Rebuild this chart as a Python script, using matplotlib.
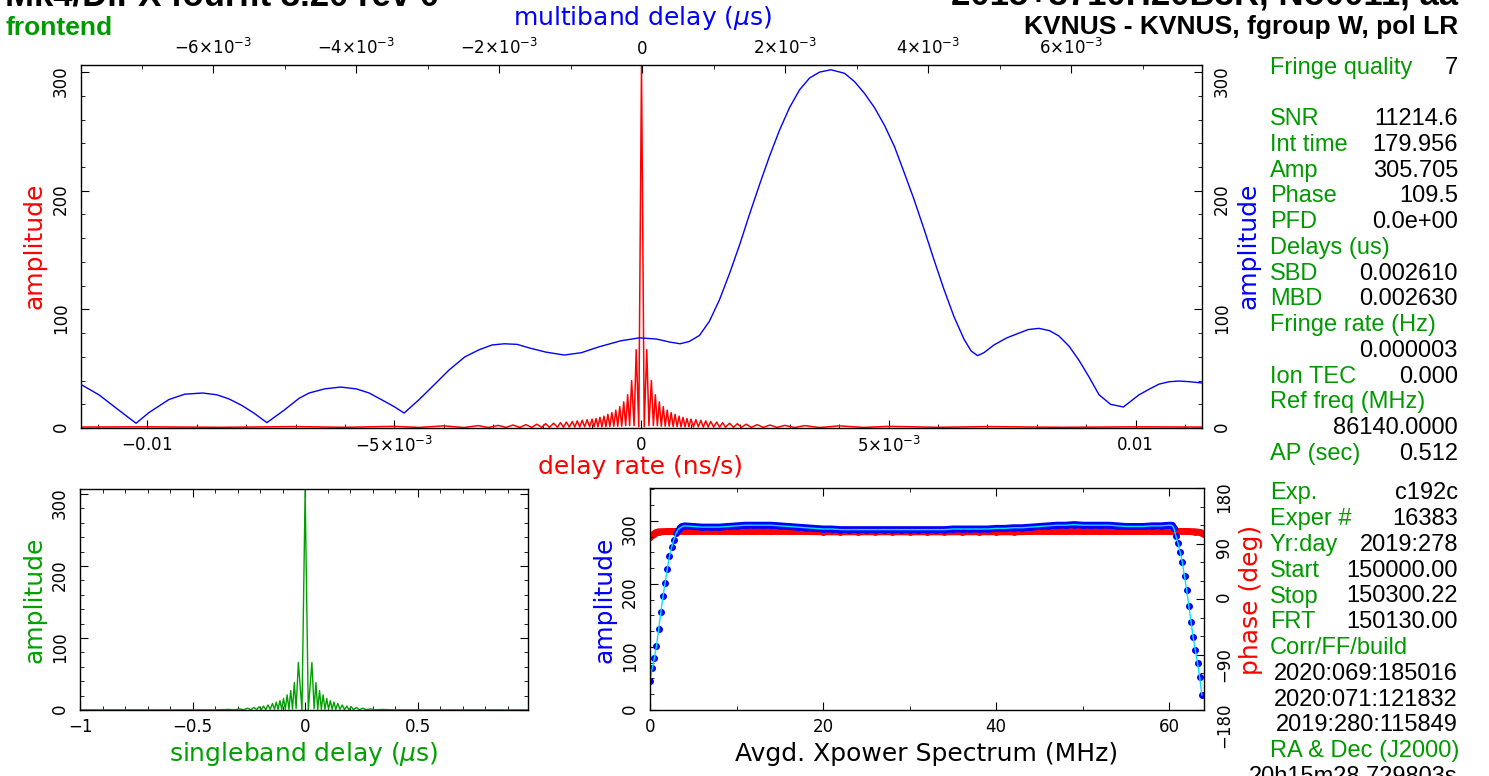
import numpy as np
import matplotlib.pyplot as plt
from matplotlib.ticker import MultipleLocator, FixedLocator

# ---- data ----
# multiband delay (units of 1e-3 us) vs amplitude (blue, top panel)
mbd_x = [-7.86, -7.60, -7.32, -7.08, -6.90, -6.62, -6.40, -6.15, -5.95, -5.78, -5.60, -5.43,
         -5.25, -5.01, -4.80, -4.66, -4.44, -4.22, -4.00, -3.82, -3.62, -3.47, -3.33, -3.12,
         -2.90, -2.70, -2.48, -2.28, -2.10, -1.93, -1.75, -1.58, -1.35, -1.09, -0.85, -0.60,
         -0.30, -0.04, 0.20, 0.38, 0.53, 0.66, 0.80, 0.94, 1.08, 1.22, 1.36, 1.50, 1.64, 1.78,
         1.92, 2.06, 2.20, 2.34, 2.48, 2.64, 2.83, 2.97, 3.11, 3.25, 3.39, 3.53, 3.66, 3.80,
         3.94, 4.08, 4.22, 4.36, 4.50, 4.60, 4.69, 4.78, 4.92, 5.10, 5.27, 5.40, 5.55, 5.70,
         5.83, 5.97, 6.11, 6.25, 6.39, 6.55, 6.73, 6.95, 7.10, 7.23, 7.37, 7.51, 7.66, 7.82]
mbd_amp = [37, 28, 15, 4, 13, 24, 28.5, 29.5, 28, 24.5, 19, 12.5,
           4.5, 15, 25, 29.5, 33, 34.5, 33, 29.5, 23, 18, 12.6, 24,
           37, 49, 60, 66, 70, 71, 70.5, 67.5, 64, 61.5, 63.5, 68.5,
           73.5, 76, 75, 72.5, 71, 73, 78, 90, 108, 130, 154, 180, 205, 229,
           251, 270, 285, 295, 300, 302, 299, 292, 282, 270, 255, 237, 216, 193,
           168, 142, 117, 94, 75, 65, 61, 63.5, 70, 76, 80, 83, 84, 82,
           77.5, 69, 57, 43, 28, 20, 17.7, 28, 33, 37, 39, 39.6, 39, 38]

# delay rate (units of 1e-3 ns/s, positive side, plot is symmetric) vs amplitude (red)
rate_x = [0.000, 0.055, 0.107, 0.150, 0.200, 0.240, 0.280, 0.320, 0.360, 0.400, 0.440, 0.480,
          0.520, 0.560, 0.600, 0.640, 0.680, 0.720, 0.760, 0.800, 0.840, 0.880, 0.920, 0.960,
          1.000, 1.050, 1.100, 1.150, 1.200, 1.250, 1.300, 1.350, 1.400, 1.460, 1.520, 1.580,
          1.640, 1.700, 1.780, 1.860, 1.940, 2.020, 2.120, 2.220, 2.340, 2.460, 2.600, 2.740,
          2.900, 3.100, 3.300, 3.600, 4.000, 4.500, 5.000, 6.000, 7.000, 8.500, 10.00, 11.40]
rate_amp = [305.7, 1, 66, 2, 40, 2, 28, 2, 22, 1.5, 18, 1.5,
            15, 1.5, 13, 1.2, 11.5, 1.2, 10, 1, 9, 1, 8, 1,
            7.5, 1, 7, 1, 6.5, 0.8, 6, 0.8, 5.5, 0.8, 5, 0.7,
            4.5, 0.7, 4, 0.6, 3.6, 0.6, 3.2, 0.5, 2.8, 0.5, 2.5, 0.5,
            2.2, 0.4, 2, 0.4, 1.8, 0.5, 1.4, 0.6, 1.2, 0.6, 1.0, 0.8]

# singleband delay (us, positive side, symmetric) vs amplitude (green)
sbd_x = [0.000, 0.014, 0.030, 0.040, 0.048, 0.056, 0.064, 0.072, 0.080, 0.088, 0.096, 0.104,
         0.112, 0.120, 0.128, 0.136, 0.145, 0.155, 0.165, 0.175, 0.185, 0.195, 0.205, 0.215,
         0.228, 0.241, 0.256, 0.272, 0.290, 0.310, 0.340, 0.400, 1.000]
sbd_amp = [305, 0, 66, 2, 38, 1, 27, 1, 21, 1, 16, 1,
           13, 1, 11, 1, 9, 1, 7, 0.5, 5.5, 0.5, 4.5, 0.5,
           3.5, 0.3, 2.5, 0.3, 1.5, 0.2, 0.8, 0.2, 0.1]

# averaged cross-power spectrum: amplitude per spectral point
xp_freq = [0, 0.25, 0.5, 0.75, 1.0, 1.25, 1.5, 1.75, 2.0, 2.25, 2.5, 2.75, 3.0, 3.25, 3.5, 3.75,
           4, 5, 6, 7, 8, 9, 10, 11, 12, 13, 14, 15, 16, 17, 18, 19, 20, 21, 22, 23, 24, 25,
           26, 27, 28, 29, 30, 31, 32, 33, 34, 35, 36, 37, 38, 39, 40, 41, 42, 43, 44, 45, 46,
           47, 48, 49, 50, 51, 52, 53, 54, 55, 56, 57, 58, 59, 60, 60.25, 60.5,
           60.75, 61.0, 61.25, 61.5, 61.75, 62.0, 62.25, 62.5, 62.75, 63.0, 63.25, 63.5, 63.75]
xp_amp = [46, 66, 82, 102, 128, 155, 180, 202, 224, 244, 258, 270, 280, 286, 289, 291,
          292, 291, 290, 290, 290, 291, 292, 293, 293, 293, 293, 292, 291, 290, 289, 288, 287,
          287, 286, 286, 286, 286, 286, 286, 286, 286, 286, 286, 286, 286, 286, 287, 287, 287,
          287, 287, 288, 288, 289, 289, 290, 291, 292, 293, 293, 294, 293, 293, 293, 293, 292,
          291, 291, 291, 292, 292, 293, 293, 289,
          276, 265, 250, 234, 212, 190, 165, 140, 115, 95, 75, 52, 24]
xp_phase_freq = [0, 0.25, 0.5, 0.75, 1, 2, 4, 6, 8, 10, 12, 14, 16, 18, 20, 22, 24, 26, 28, 30,
                 32, 34, 36, 38, 40, 42, 44, 46, 48, 50, 52, 54, 56, 58, 60, 62, 63, 63.5, 64]
xp_phase = [100, 103, 106, 108, 109, 109.5, 109.5, 109.5, 109.5, 109.5, 109.5, 109.5, 109.5,
            109.5, 109, 109, 109, 109, 109, 109, 109, 109, 109, 109, 109, 109, 109.5, 109.5,
            109.5, 109.5, 109.5, 109.5, 109.5, 109.5, 109.5, 109.5, 109, 108, 105]

info_labels = ['Fringe quality', '', 'SNR', 'Int time', 'Amp', 'Phase', 'PFD', 'Delays (us)',
               'SBD', 'MBD', 'Fringe rate (Hz)', '', 'Ion TEC', 'Ref freq (MHz)', '', 'AP (sec)']
info_values = ['7', '', '11214.6', '179.956', '305.705', '109.5', '0.0e+00', '',
               '0.002610', '0.002630', '', '0.000003', '0.000', '', '86140.0000', '0.512']
info2_labels = ['Exp.', 'Exper #', 'Yr:day', 'Start', 'Stop', 'FRT', 'Corr/FF/build',
                '', '', '', 'RA & Dec (J2000)', '']
info2_values = ['c192c', '16383', '2019:278', '150000.00', '150300.22', '150130.00', '',
                '2020:069:185016', '2020:071:121832', '2019:280:115849', '', '20h15m28.729803s']

# ---- layout helpers (pixel -> figure fraction) ----
W, H = 1489, 776
RED, BLUE, GREEN = '#ff0000', '#0000ff', '#00a000'
TXT_GREEN = '#009a00'

plt.rcParams['font.family'] = 'DejaVu Sans'
plt.rcParams['axes.linewidth'] = 1.0
plt.rcParams['xtick.major.size'] = 6
plt.rcParams['ytick.major.size'] = 6
plt.rcParams['xtick.minor.size'] = 3
plt.rcParams['ytick.minor.size'] = 3
plt.rcParams['xtick.labelsize'] = 12
plt.rcParams['ytick.labelsize'] = 12


def rect(x0, y0, x1, y1):
    return [x0 / W, 1 - y1 / H, (x1 - x0) / W, (y1 - y0) / H]


def put_label(axis, x, y):
    axis.set_label_coords(x / W, 1 - y / H, transform=fig.transFigure)
    axis.label.set_va('center')
    axis.label.set_ha('center')


def mirror(x, y):
    x = np.asarray(x)
    y = np.asarray(y)
    return np.concatenate([-x[::-1], x[1:]]), np.concatenate([y[::-1], y[1:]])


fig = plt.figure(figsize=(W / 100, H / 100), dpi=100)

# ---- top panel: delay rate (red) + multiband delay (blue) ----
ax = fig.add_axes(rect(81, 65, 1202, 428))
rx, ry = mirror(rate_x, rate_amp)
ax.plot(rx * 1e-3, ry, color=RED, lw=1.1)
ax.set_xlim(-0.01134, 0.01134)
ax.set_ylim(0, 306)
ax.xaxis.set_major_locator(FixedLocator([-0.01, -0.005, 0, 0.005, 0.01]))
ax.set_xticklabels([r'$-0.01$', r'$-5{\times}10^{-3}$', '0', r'$5{\times}10^{-3}$', '0.01'])
ax.xaxis.set_minor_locator(MultipleLocator(0.001))
ax.yaxis.set_major_locator(MultipleLocator(100))
ax.yaxis.set_minor_locator(MultipleLocator(20))
ax.tick_params(which='both', direction='in', top=False, right=False)
ax.tick_params(axis='x', pad=6)
ax.tick_params(axis='y', labelrotation=90, pad=8)
ax.set_xlabel('delay rate (ns/s)', color=RED, fontsize=18)
ax.set_ylabel('amplitude', color=RED, fontsize=18)
put_label(ax.xaxis, 641, 467)
put_label(ax.yaxis, 35, 246)

ax2 = fig.add_axes(rect(81, 65, 1202, 428), frameon=False)
ax2.patch.set_alpha(0)
ax2.plot(np.array(mbd_x) * 1e-3, mbd_amp, color=BLUE, lw=1.0)
ax2.set_xlim(-0.00785, 0.00783)
ax2.set_ylim(0, 306)
ax2.xaxis.tick_top()
ax2.yaxis.tick_right()
ax2.xaxis.set_major_locator(FixedLocator([-0.006, -0.004, -0.002, 0, 0.002, 0.004, 0.006]))
ax2.set_xticklabels([r'$-6{\times}10^{-3}$', r'$-4{\times}10^{-3}$', r'$-2{\times}10^{-3}$', '0',
                     r'$2{\times}10^{-3}$', r'$4{\times}10^{-3}$', r'$6{\times}10^{-3}$'])
ax2.xaxis.set_minor_locator(MultipleLocator(0.001))
ax2.yaxis.set_major_locator(MultipleLocator(100))
ax2.yaxis.set_minor_locator(MultipleLocator(20))
ax2.tick_params(which='both', direction='in')
ax2.tick_params(axis='x', pad=5)
ax2.tick_params(axis='y', labelrotation=90, pad=8)
ax2.set_xlabel(r'multiband delay ($\mu$s)', color=BLUE, fontsize=18)
ax2.set_ylabel('amplitude', color=BLUE, fontsize=18)
ax2.xaxis.set_label_position('top')
ax2.yaxis.set_label_position('right')
put_label(ax2.xaxis, 643, 18)
put_label(ax2.yaxis, 1249, 246)

# ---- bottom left: singleband delay ----
ax3 = fig.add_axes(rect(80, 489, 528, 710))
sx, sy = mirror(sbd_x, sbd_amp)
ax3.plot(sx, sy, color=GREEN, lw=1.0)
ax3.set_xlim(-1, 0.99)
ax3.set_ylim(0, 307)
ax3.xaxis.set_major_locator(FixedLocator([-1, -0.5, 0, 0.5]))
ax3.set_xticklabels(['\u22121', '\u22120.5', '0', '0.5'])
ax3.xaxis.set_minor_locator(MultipleLocator(0.1))
ax3.yaxis.set_major_locator(MultipleLocator(100))
ax3.yaxis.set_minor_locator(MultipleLocator(20))
ax3.tick_params(which='both', direction='in', top=True, right=True)
ax3.tick_params(axis='x', pad=6)
ax3.tick_params(axis='y', labelrotation=90, pad=8)
ax3.set_xlabel(r'singleband delay ($\mu$s)', color=GREEN, fontsize=18)
ax3.set_ylabel('amplitude', color=GREEN, fontsize=18)
put_label(ax3.xaxis, 304, 754)
put_label(ax3.yaxis, 35, 600)

# ---- bottom right: averaged cross-power spectrum ----
ax5 = fig.add_axes(rect(650, 488, 1204, 710), frameon=False)
ax5.plot(xp_phase_freq, xp_phase, color=RED, lw=5, solid_capstyle='round')
ax5.plot(xp_phase_freq, xp_phase, 'o', color=RED, ms=4)
ax5.set_xlim(0, 64)
ax5.set_ylim(-180, 180)
ax5.xaxis.set_visible(False)
ax5.yaxis.tick_right()
ax5.yaxis.set_major_locator(MultipleLocator(90))
ax5.yaxis.set_minor_locator(MultipleLocator(30))
ax5.tick_params(which='both', direction='in')
ax5.tick_params(axis='y', labelrotation=90, pad=8)
ax5.set_ylabel('phase (deg)', color=RED, fontsize=18)
ax5.yaxis.set_label_position('right')
put_label(ax5.yaxis, 1251, 600)

ax4 = fig.add_axes(rect(650, 488, 1204, 710))
ax4.patch.set_alpha(0)
plateau = slice(14, 75)
ax4.plot(xp_freq[plateau], xp_amp[plateau], color=BLUE, lw=5, solid_capstyle='round')
ax4.plot(xp_freq, xp_amp, 'o', color=BLUE, ms=4)
ax4.plot(xp_freq, xp_amp, color='#00e5ff', lw=1.0)
ax4.set_xlim(0, 64)
ax4.set_ylim(0, 352)
ax4.xaxis.set_major_locator(MultipleLocator(20))
ax4.xaxis.set_minor_locator(MultipleLocator(10))
ax4.yaxis.set_major_locator(MultipleLocator(100))
ax4.yaxis.set_minor_locator(MultipleLocator(25))
ax4.tick_params(which='both', direction='in', top=True, right=False)
ax4.tick_params(axis='x', pad=6)
ax4.tick_params(axis='y', labelrotation=90, pad=8)
ax4.set_xlabel('Avgd. Xpower Spectrum (MHz)', color='black', fontsize=18)
ax4.set_ylabel('amplitude', color=BLUE, fontsize=18)
put_label(ax4.xaxis, 927, 754)
put_label(ax4.yaxis, 605, 600)

# ---- header text ----
fig.text(5 / W, 1 - 5 / H, 'Mk4/DiFX fourfit 3.20 rev 0', family='Liberation Sans',
         weight='bold', fontsize=25, va='baseline', ha='left')
fig.text(1458 / W, 1 - 5 / H, '2015+3710H20B3R, No0011, aa', family='Liberation Sans',
         weight='bold', fontsize=25, va='baseline', ha='right')
fig.text(5 / W, 1 - 35 / H, 'frontend', family='Liberation Sans', weight='bold',
         fontsize=19, color=TXT_GREEN, va='baseline', ha='left')
fig.text(1458 / W, 1 - 34 / H, 'KVNUS - KVNUS, fgroup W, pol LR', family='Liberation Sans',
         weight='bold', fontsize=19, va='baseline', ha='right')

# ---- right-hand information column ----
for i, (lab, val) in enumerate(zip(info_labels, info_values)):
    y = 1 - (67.6 + i * 25.75) / H
    if lab:
        fig.text(1270 / W, y, lab, family='Liberation Sans', fontsize=17,
                 color=TXT_GREEN, va='center', ha='left')
    if val:
        fig.text(1458 / W, y, val, family='Liberation Sans', fontsize=17,
                 color='black', va='center', ha='right')

for i, (lab, val) in enumerate(zip(info2_labels, info2_values)):
    y = 1 - (493.5 + i * 25.75) / H
    if lab:
        fig.text(1270 / W, y, lab, family='Liberation Sans', fontsize=17,
                 color=TXT_GREEN, va='center', ha='left')
    if val:
        fig.text(1458 / W, y, val, family='Liberation Sans', fontsize=17,
                 color='black', va='center', ha='right')

fig.savefig('out.png', dpi=100)
